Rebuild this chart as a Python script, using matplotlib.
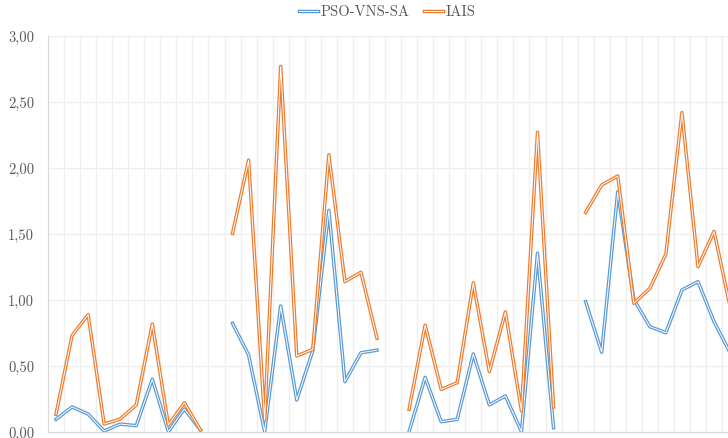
import numpy as np
import matplotlib
matplotlib.use('Agg')
import matplotlib.pyplot as plt
import matplotlib.patheffects as pe
from matplotlib.ticker import FuncFormatter, MultipleLocator

plt.rcParams['font.family'] = ['cmr10', 'DejaVu Serif']
plt.rcParams['axes.unicode_minus'] = False

nan = np.nan
# values per category (gaps between instance groups are NaN)
pso_vns_sa = [0.096, 0.19, 0.136, 0.008, 0.06, 0.048, 0.40, 0.003, 0.174, 0.015,
              nan,
              0.823, 0.583, 0.003, 0.955, 0.242, 0.616, 1.68, 0.381, 0.60, 0.62,
              nan,
              0.003, 0.414, 0.078, 0.096, 0.591, 0.205, 0.273, 0.003, 1.354, 0.033,
              nan,
              0.987, 0.604, 1.82, 1.005, 0.798, 0.752, 1.076, 1.139, 0.836, 0.60]
iais = [0.134, 0.73, 0.889, 0.06, 0.098, 0.205, 0.818, 0.053, 0.222, 0.015,
        nan,
        1.505, 2.06, 0.09, 2.77, 0.576, 0.626, 2.10, 1.139, 1.21, 0.71,
        nan,
        0.172, 0.81, 0.323, 0.374, 1.13, 0.457, 0.91, 0.16, 2.27, 0.19,
        nan,
        1.664, 1.871, 1.94, 0.975, 1.088, 1.348, 2.42, 1.252, 1.52, 0.95]
series = [('PSO-VNS-SA', pso_vns_sa, '#5B9BD5'), ('IAIS', iais, '#ED7D31')]

fig = plt.figure(figsize=(7.28, 4.38), dpi=100)
ax = fig.add_axes([0.0659, 0.0137, 0.9341, 0.9041])

x = np.arange(len(iais))
for name, vals, col in series:
    ax.plot(x, vals, color='white', lw=0.7, label=name,
            path_effects=[pe.Stroke(linewidth=2.5, foreground=col), pe.Normal()])

ax.set_xlim(-0.5, 41.87)
ax.set_ylim(0, 3.0)
ax.yaxis.set_major_locator(MultipleLocator(0.5))
ax.yaxis.set_major_formatter(FuncFormatter(lambda v, p: ('%.2f' % v).replace('.', ',')))
ax.set_xticks(np.arange(-0.5, 42, 1.0))
ax.set_xticklabels([])
ax.tick_params(axis='both', length=0)
ax.tick_params(axis='y', labelsize=10.5, colors='#595959', pad=10)
ax.grid(True, color='#EFEFEF', lw=0.9)
ax.set_axisbelow(True)
for s in ['top', 'right']:
    ax.spines[s].set_visible(False)
ax.spines['left'].set_color('#D9D9D9')
ax.spines['bottom'].set_color('#D9D9D9')

fig.legend(loc='center', bbox_to_anchor=(0.532, 0.972), ncol=2, frameon=False,
           fontsize=10.5, handlelength=1.3, handletextpad=0.15, columnspacing=1.0,
           labelcolor='#595959')

fig.savefig('out.png', dpi=100)
